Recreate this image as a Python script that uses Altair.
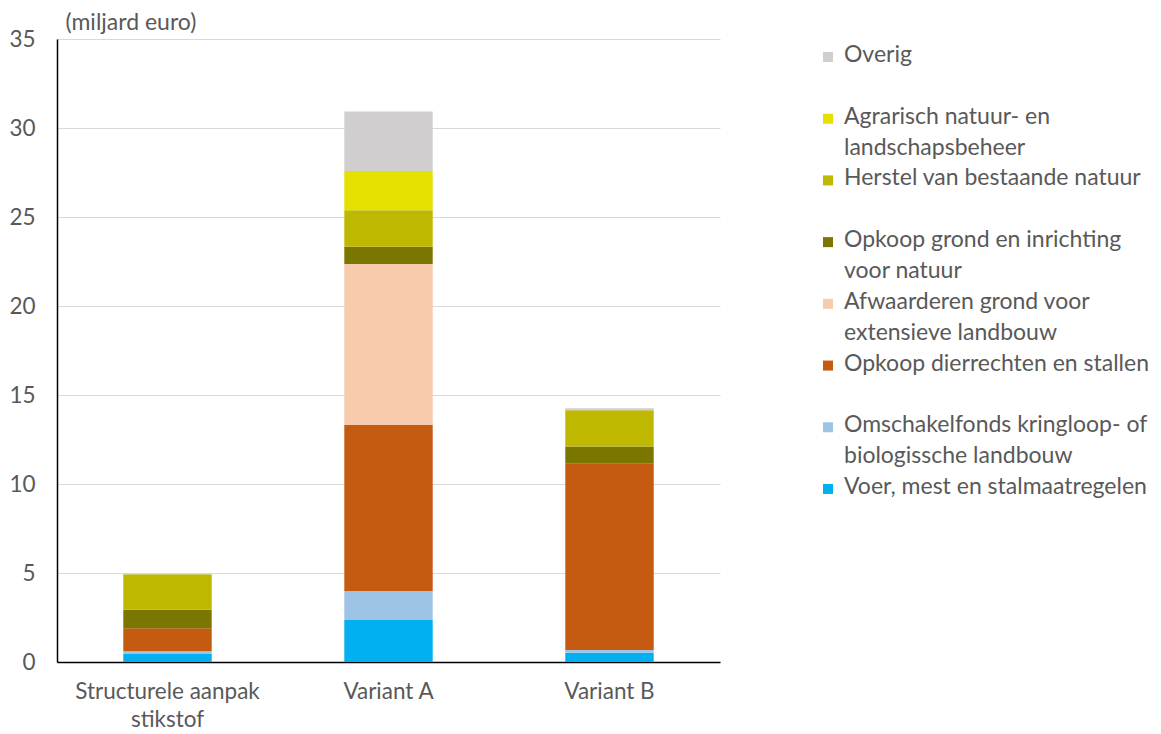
import altair as alt
import pandas as pd

categories = ["Structurele aanpak stikstof", "Variant A", "Variant B"]

# stacked from bottom to top
series = [
    "Voer, mest en stalmaatregelen",
    "Omschakelfonds kringloop- of biologissche landbouw",
    "Opkoop dierrechten en stallen",
    "Afwaarderen grond voor extensieve landbouw",
    "Opkoop grond en inrichting voor natuur",
    "Herstel van bestaande natuur",
    "Agrarisch natuur- en landschapsbeheer",
    "Overig",
]
legend_labels = [
    "Voer, mest en stalmaatregelen",
    "Omschakelfonds kringloop- of\nbiologissche landbouw",
    "Opkoop dierrechten en stallen",
    "Afwaarderen grond voor\nextensieve landbouw",
    "Opkoop grond en inrichting\nvoor natuur",
    "Herstel van bestaande natuur",
    "Agrarisch natuur- en\nlandschapsbeheer",
    "Overig",
]
colors = ["#00B0F0", "#9DC3E6", "#C55A11", "#F8CBAD",
          "#7A7600", "#BFB800", "#E6E000", "#D0CECE"]

voer = [0.45, 2.36, 0.52]
omschakel = [0.15, 1.63, 0.15]
opkoop_dier = [1.30, 9.32, 10.47]
afwaarderen = [0.0, 9.05, 0.0]
opkoop_grond = [1.03, 0.97, 0.96]
herstel = [2.00, 2.05, 2.04]
agrarisch = [0.0, 2.20, 0.0]
overig = [0.02, 3.34, 0.11]

values = [voer, omschakel, opkoop_dier, afwaarderen,
          opkoop_grond, herstel, agrarisch, overig]

rows = []
for i, (s, vals) in enumerate(zip(series, values)):
    for c, v in zip(categories, vals):
        rows.append({"categorie": c, "post": s, "waarde": v, "volgorde": i})
df = pd.DataFrame(rows)

FONT = "Lato"
TXT = "#595959"
FS = 22.5

color_scale = alt.Scale(domain=series, range=colors)

bars = alt.Chart(df).mark_bar().encode(
    x=alt.X(
        "categorie:N",
        sort=categories,
        scale=alt.Scale(paddingInner=0.6, paddingOuter=0.3),
        axis=alt.Axis(
            title=None, labelAngle=0, ticks=False, domainColor="#000000",
            domainWidth=1.5, labelColor=TXT, labelFontSize=FS, labelFont=FONT,
            labelPadding=18, labelLineHeight=28, labelLimit=400,
            labelExpr="datum.label == 'Structurele aanpak stikstof' ? ['Structurele aanpak', 'stikstof'] : datum.label",
        ),
    ),
    y=alt.Y(
        "waarde:Q",
        stack="zero",
        scale=alt.Scale(domain=[0, 35], nice=False),
        axis=alt.Axis(
            title="(miljard euro)", titleAngle=0, titleAlign="left",
            titleBaseline="middle", titleX=8, titleY=-17,
            titleFont=FONT, titleFontSize=23, titleFontWeight="normal",
            titleColor=TXT, values=[0, 5, 10, 15, 20, 25, 30, 35],
            ticks=False, labelPadding=22, labelColor=TXT, labelFontSize=FS,
            labelFont=FONT, domainColor="#000000", domainWidth=1.5,
            gridColor="#D9D9D9", gridWidth=1,
        ),
    ),
    color=alt.Color("post:N", scale=color_scale, legend=None),
    order=alt.Order("volgorde:Q", sort="ascending"),
).properties(width=663, height=623)

legend_order = list(reversed(series))
leg_df = pd.DataFrame({
    "post": list(reversed(series)),
    "label": list(reversed(legend_labels)),
})

leg_y = alt.Y("post:N", sort=legend_order, axis=None,
              scale=alt.Scale(type="point", padding=0))

leg_sq = alt.Chart(leg_df).mark_square(size=100, opacity=1, yOffset=18).encode(
    x=alt.value(18),
    y=leg_y,
    color=alt.Color("post:N", scale=color_scale, legend=None),
)
leg_txt = alt.Chart(leg_df).mark_text(
    align="left", baseline="alphabetic", lineBreak="\n", lineHeight=30.8,
    fontSize=23, font=FONT, color=TXT, yOffset=23,
).encode(
    x=alt.value(34),
    y=leg_y,
    text="label:N",
)
legend = (leg_sq + leg_txt).properties(width=320, height=432)

chart = alt.hconcat(bars, legend, spacing=90).properties(
    padding={"left": 0, "top": 3, "right": 0, "bottom": 0}
).configure(font=FONT).configure_view(strokeWidth=0, stroke="transparent")

chart.save("out.html", embed_options={"renderer": "svg", "actions": False})
